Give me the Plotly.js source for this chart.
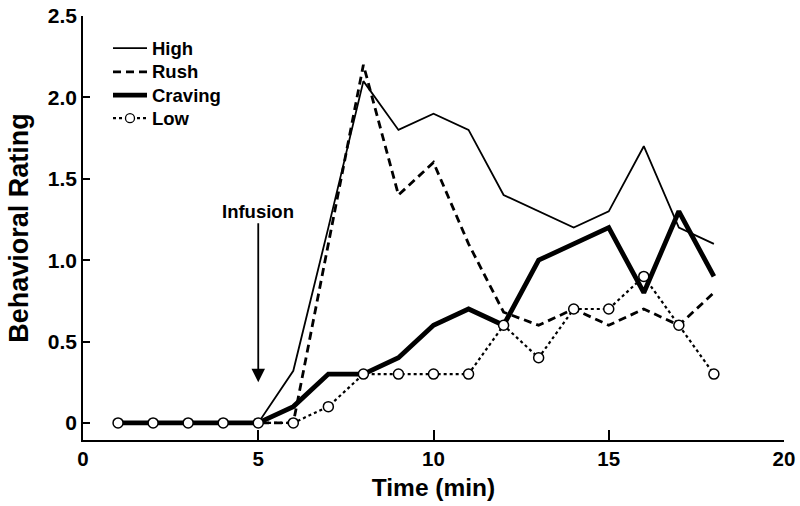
<!DOCTYPE html>
<html>
<head>
<meta charset="utf-8">
<script src="https://cdn.plot.ly/plotly-3.0.1.min.js"></script>
<style>
  html, body { margin: 0; padding: 0; background: #fff; }
  #plot { width: 800px; height: 506px; }
</style>
</head>
<body>
<div id="plot"></div>
<script>
var minutes = [1, 2, 3, 4, 5, 6, 7, 8, 9, 10, 11, 12, 13, 14, 15, 16, 17, 18];
var high    = [0, 0, 0, 0, 0, 0.32, 1.2, 2.1, 1.8, 1.9, 1.8, 1.4, 1.3, 1.2, 1.3, 1.7, 1.2, 1.1];
var rush    = [0, 0, 0, 0, 0, 0, 1.1, 2.2, 1.4, 1.6, 1.1, 0.68, 0.6, 0.7, 0.6, 0.7, 0.6, 0.8];
var craving = [0, 0, 0, 0, 0, 0.1, 0.3, 0.3, 0.4, 0.6, 0.7, 0.6, 1.0, 1.1, 1.2, 0.8, 1.3, 0.9];
var low     = [0, 0, 0, 0, 0, 0, 0.1, 0.3, 0.3, 0.3, 0.3, 0.6, 0.4, 0.7, 0.7, 0.9, 0.6, 0.3];

var seriesNames = ['High', 'Rush', 'Craving', 'Low'];
var yTicks = [0, 0.5, 1, 1.5, 2, 2.5];
var yLabels = ['0', '0.5', '1.0', '1.5', '2.0', '2.5'];
var xTicks = [0, 5, 10, 15, 20];

function crea() {
  var fnt = 'Liberation Sans, Arial, Helvetica, sans-serif';

  var styles = [
    {color: '#000', width: 1.8},
    {color: '#000', width: 2.8, dash: '8px,5px'},
    {color: '#000', width: 4.8},
    {color: '#000', width: 2.2, dash: 'dot'}
  ];
  var values = [high, rush, craving, low];

  var data = values.map(function (v, i) {
    var t = {x: minutes, y: v, mode: 'lines', name: seriesNames[i], line: styles[i]};
    if (i === 3) {
      t.mode = 'lines+markers';
      t.marker = {size: 10, color: '#fff', line: {color: '#000', width: 1.5}};
    }
    return t;
  });

  // hand-drawn legend (tighter rows than plotly's own legend)
  var shapes = [], annotations = [];
  var rowsY = [0.924, 0.868, 0.8135, 0.759];
  var lx0 = 0.0428, lx1 = 0.0913, tx = 0.0956;
  rowsY.forEach(function (ry, i) {
    shapes.push({
      type: 'line', xref: 'paper', yref: 'paper',
      x0: lx0, x1: lx1, y0: ry, y1: ry,
      line: {color: '#000', width: styles[i].width, dash: styles[i].dash || 'solid'}
    });
    annotations.push({
      xref: 'paper', yref: 'paper', x: tx, y: ry,
      xanchor: 'left', yanchor: 'middle', showarrow: false,
      text: seriesNames[i],
      font: {family: fnt, size: 18.5, color: '#000', weight: 'bold'}
    });
  });
  shapes.push({
    type: 'circle', xref: 'paper', yref: 'paper',
    xsizemode: 'pixel', ysizemode: 'pixel',
    xanchor: (lx0 + lx1) / 2, yanchor: rowsY[3],
    x0: -4.5, x1: 4.5, y0: -4.5, y1: 4.5,
    fillcolor: '#fff', line: {color: '#000', width: 1.3}
  });

  annotations.push({
    x: 5, y: 0.25, xref: 'x', yref: 'y',
    ax: 5, ay: 1.3, axref: 'x', ayref: 'y',
    text: 'Infusion', showarrow: true,
    arrowhead: 2, arrowsize: 1.5, arrowwidth: 1.8, arrowcolor: '#000',
    font: {family: fnt, size: 18.5, color: '#000', weight: 'bold'}
  });

  var layout = {
    width: 800, height: 506,
    margin: {l: 83, r: 16, t: 16, b: 66},
    paper_bgcolor: '#fff', plot_bgcolor: '#fff',
    font: {family: fnt, color: '#000', size: 18, weight: 'bold'},
    showlegend: false,
    xaxis: {
      range: [0, 20], tickvals: xTicks,
      ticks: 'inside', ticklen: 10, tickwidth: 1.5, tickcolor: '#000',
      showline: true, linecolor: '#000', linewidth: 1.5,
      showgrid: false, zeroline: false,
      tickfont: {family: fnt, size: 20.5, weight: 'bold'},
      title: {text: 'Time (min)', font: {family: fnt, size: 24.5, weight: 'bold'}, standoff: 10}
    },
    yaxis: {
      range: [-0.105, 2.5], tickvals: yTicks, ticktext: yLabels,
      ticks: 'inside', ticklen: 7, tickwidth: 1.5, tickcolor: '#000',
      showline: true, linecolor: '#000', linewidth: 1.5,
      showgrid: false, zeroline: false,
      tickfont: {family: fnt, size: 21, weight: 'bold'},
      title: {text: 'Behavioral Rating', font: {family: fnt, size: 27, weight: 'bold'}, standoff: 11}
    },
    shapes: shapes,
    annotations: annotations
  };

  Plotly.newPlot('plot', data, layout, {displayModeBar: false});
}
crea();
</script>
</body>
</html>
